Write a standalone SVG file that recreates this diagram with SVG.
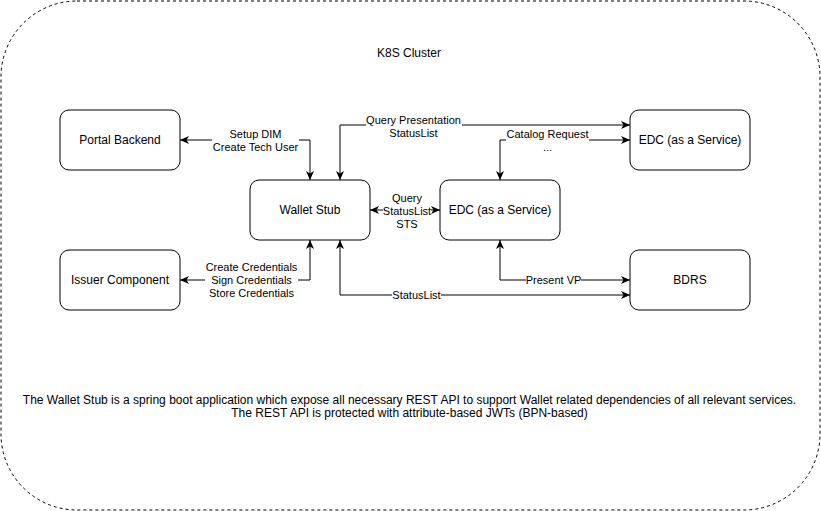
<svg xmlns="http://www.w3.org/2000/svg" width="821" height="511" viewBox="0 0 821 511">
<style>
text{font-family:"Liberation Sans",Arial,Helvetica,sans-serif;fill:#000;text-anchor:middle}
.node{fill:#fff;stroke:#000;stroke-width:1}
.n{font-size:12px}
.l{font-size:11px}
.edge{fill:none;stroke:#000;stroke-width:1;marker-start:url(#arr);marker-end:url(#arr)}
.bg{fill:#fff}
</style>
<defs>
<marker id="arr" viewBox="0 0 10 8" refX="9" refY="4" markerWidth="10" markerHeight="8" markerUnits="userSpaceOnUse" orient="auto-start-reverse">
<path d="M0,0 L9,4 L0,8 L2.5,4 Z" fill="#000"/>
</marker>
</defs>
<rect width="821" height="511" fill="#fff"/>
<g id="cluster">
<rect x="1" y="1" width="819" height="509" rx="76" ry="76" fill="#fff" stroke="#000" stroke-width="1" stroke-dasharray="3 3"/>
<text class="n" x="409" y="57">K8S Cluster</text>
</g>
<g id="connectors">
<path class="edge" d="M310,180 L310,140 L180,140"/>
<path class="edge" d="M340,180 L340,125 L630,125"/>
<path class="edge" d="M500,180 L500,140 L630,140"/>
<path class="edge" d="M370,210 L440,210"/>
<path class="edge" d="M500,240 L500,280 L630,280"/>
<path class="edge" d="M340,240 L340,295 L630,295"/>
<path class="edge" d="M310,240 L310,280 L180,280"/>
<g id="labels">
<rect class="bg" x="212" y="128" width="87" height="26"/>
<text class="l" x="255.5" y="138">Setup DIM</text>
<text class="l" x="255.5" y="151">Create Tech User</text>
<rect class="bg" x="366" y="114" width="96" height="26"/>
<text class="l" x="413.5" y="124">Query Presentation</text>
<text class="l" x="413.5" y="137">StatusList</text>
<rect class="bg" x="506" y="129" width="83" height="24"/>
<text class="l" x="547.5" y="137.5">Catalog Request</text>
<text class="l" x="547.5" y="150.5">...</text>
<rect class="bg" x="383" y="191" width="48" height="40"/>
<text class="l" x="407" y="201.5">Query</text>
<text class="l" x="407" y="214.5">StatusList</text>
<text class="l" x="407" y="227.5">STS</text>
<rect class="bg" x="526" y="274" width="55" height="13"/>
<text class="l" x="553.5" y="284">Present VP</text>
<rect class="bg" x="392" y="289" width="49" height="13"/>
<text class="l" x="416.5" y="299">StatusList</text>
<rect class="bg" x="205" y="261" width="93" height="40"/>
<text class="l" x="251.5" y="271">Create Credentials</text>
<text class="l" x="251.5" y="284">Sign Credentials</text>
<text class="l" x="251.5" y="297">Store Credentials</text>
</g>
</g>
<g id="portal-backend">
<rect class="node" x="60" y="110" width="120" height="60" rx="9" ry="9"/>
<text class="n" x="120" y="144">Portal Backend</text>
</g>
<g id="wallet-stub">
<rect class="node" x="250" y="180" width="120" height="60" rx="9" ry="9"/>
<text class="n" x="310" y="214">Wallet Stub</text>
</g>
<g id="edc-middle">
<rect class="node" x="440" y="180" width="120" height="60" rx="9" ry="9"/>
<text class="n" x="500" y="214">EDC (as a Service)</text>
</g>
<g id="edc-top">
<rect class="node" x="630" y="110" width="120" height="60" rx="9" ry="9"/>
<text class="n" x="690" y="144">EDC (as a Service)</text>
</g>
<g id="bdrs">
<rect class="node" x="630" y="250" width="120" height="60" rx="9" ry="9"/>
<text class="n" x="690" y="284">BDRS</text>
</g>
<g id="issuer-component">
<rect class="node" x="60" y="250" width="120" height="60" rx="9" ry="9"/>
<text class="n" x="120" y="284">Issuer Component</text>
</g>
<g id="description">
<text class="n" x="409.5" y="403.5">The Wallet Stub is a spring boot application which expose all necessary REST API to support Wallet related dependencies of all relevant services.</text>
<text class="n" x="409.5" y="417">The REST API is protected with attribute-based JWTs (BPN-based)</text>
</g>
</svg>
